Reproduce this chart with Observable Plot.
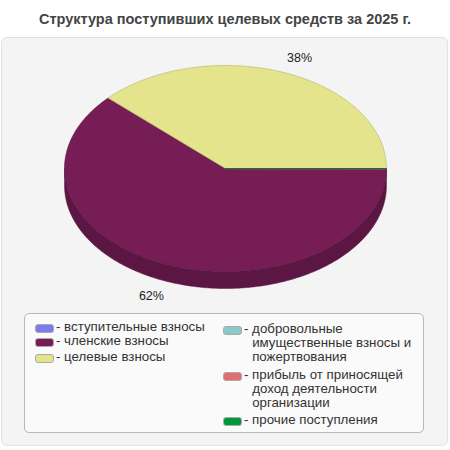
<!DOCTYPE html>
<html><head><meta charset="utf-8">
<script src="https://cdn.jsdelivr.net/npm/d3@7"></script>
<script src="https://cdn.jsdelivr.net/npm/@observablehq/plot@0.6"></script>
<style>
body{margin:0;background:#fff;font-family:"Liberation Sans",Arial,sans-serif;}
#wrap{position:relative;width:450px;height:450px;overflow:hidden;}
#title{position:absolute;left:0;top:11px;width:450px;text-align:center;font-weight:bold;font-size:14.5px;color:#444;}
#panel{position:absolute;left:1px;top:37px;width:445px;height:407px;background:#f4f4f4;border:1px solid #e2e2e2;border-radius:6px;}
#chart{position:absolute;left:0;top:0;}
#legend{position:absolute;left:24px;top:313px;width:398px;height:118px;background:#fafafa;border:1px solid #b8b8b8;border-radius:5px;font-size:13.3px;color:#333;}
.it{position:absolute;line-height:14px;white-space:nowrap;}
.sw{position:absolute;width:17px;height:7px;border:1px solid #aaa;border-radius:3px;}
</style></head>
<body><div id="wrap"><div id="title"></div><div id="panel"></div><div id="chart"></div><div id="legend"></div></div>
<script>
const title = "Структура поступивших целевых средств за 2025 г.";
const categories = ["вступительные взносы","членские взносы","целевые взносы","добровольные имущественные взносы и пожертвования","прибыль от приносящей доход деятельности организации","прочие поступления"];
const values = [0, 62, 38, 0, 0, 0];
const colors = ["#7b7bef","#761d55","#e4e48c","#8ccaca","#e07070","#00993a"];
const sideColors = ["#5c5cc0","#5b1644","#b5b66a","#6aa0a0","#b05050","#007a2e"];
const legendLines = [["вступительные взносы"],["членские взносы"],["целевые взносы"],["добровольные","имущественные взносы и","пожертвования"],["прибыль от приносящей","доход деятельности","организации"],["прочие поступления"]];

document.getElementById("title").textContent = title;

const depth = 0.165;
const total = d3.sum(values);
let acc = 0;
const slices = values.map((v,i)=>{const a0=acc/total*2*Math.PI; acc+=v; const a1=acc/total*2*Math.PI; return {i,v,a0,a1};});
const topFace = [], sideFace = [], pctLabels = [];
slices.forEach(s=>{
  const n = Math.max(2, Math.ceil((s.a1-s.a0)/0.01));
  topFace.push({k:s.i, u:0, w:0, c:colors[s.i]});
  for(let j=0;j<=n;j++){const a=s.a0+(s.a1-s.a0)*j/n; topFace.push({k:s.i,u:Math.cos(a),w:-Math.sin(a),c:colors[s.i]});}
  const b0 = Math.max(s.a0,0), b1 = Math.min(s.a1,Math.PI);
  if(b1>b0){
    const m = Math.ceil((b1-b0)/0.01);
    for(let j=0;j<=m;j++){const a=b0+(b1-b0)*j/m; sideFace.push({k:s.i,u:Math.cos(a),w:-Math.sin(a),c:sideColors[s.i]});}
    for(let j=m;j>=0;j--){const a=b0+(b1-b0)*j/m; sideFace.push({k:s.i,u:Math.cos(a),w:-Math.sin(a)-depth,c:sideColors[s.i]});}
  }
  if(s.v>0){
    const mid=(s.a0+s.a1)/2, c=Math.cos(mid), sn=-Math.sin(mid);
    pctLabels.push({u:c*1.25, w:sn*1.15 - (sn<0?depth:0), t:Math.round(s.v/total*100)+"%"});
  }
});
const strokeOf = c => d3.color(c).darker(0.7).formatHex();

const plot = Plot.plot({
  width:450, height:450, margin:0,
  style:{background:"transparent", overflow:"visible"},
  x:{domain:[-225/161, 225/161], axis:null},
  y:{domain:[(168-450)/103, 168/103], axis:null},
  marks:[
    Plot.line(sideFace,{x:"u",y:"w",z:"k",fill:"c",stroke:"c",strokeWidth:0.5,curve:"linear-closed"}),
    Plot.line(topFace.filter(d=>values[d.k]>0),{x:"u",y:"w",z:"k",fill:"c",stroke:d=>strokeOf(d.c),strokeWidth:0.6,curve:"linear-closed"}),
    Plot.line(topFace.filter(d=>values[d.k]===0),{x:"u",y:"w",z:"k",stroke:d=>strokeOf(d.c),strokeWidth:0.9}),
    Plot.text(pctLabels,{x:"u",y:"w",text:"t",fontSize:12.5,fill:"#222",fontFamily:"Liberation Sans, Arial, sans-serif"})
  ]
});
document.getElementById("chart").appendChild(plot);

const lg = document.getElementById("legend");
let yL = 7, yR = 9;
categories.forEach((c,i)=>{
  const right = i>=3;
  const x = right?198:10;
  const y = right?yR:yL;
  const sw = document.createElement("div"); sw.className="sw";
  sw.style.left=x+"px"; sw.style.top=(y+3)+"px"; sw.style.background=colors[i];
  lg.appendChild(sw);
  const t = document.createElement("div"); t.className="it";
  t.style.left=(x+21)+"px"; t.style.top=(y-1)+"px";
  t.innerHTML = legendLines[i].map((l,j)=>(j===0?"- ":"<span style='visibility:hidden'>- </span>")+l).join("<br>");
  lg.appendChild(t);
  const h = legendLines[i].length*14;
  if(right) yR += h + (i===3?4:(i===4?3:0)); else yL += h + (i===1?2:0);
});
</script></body></html>
